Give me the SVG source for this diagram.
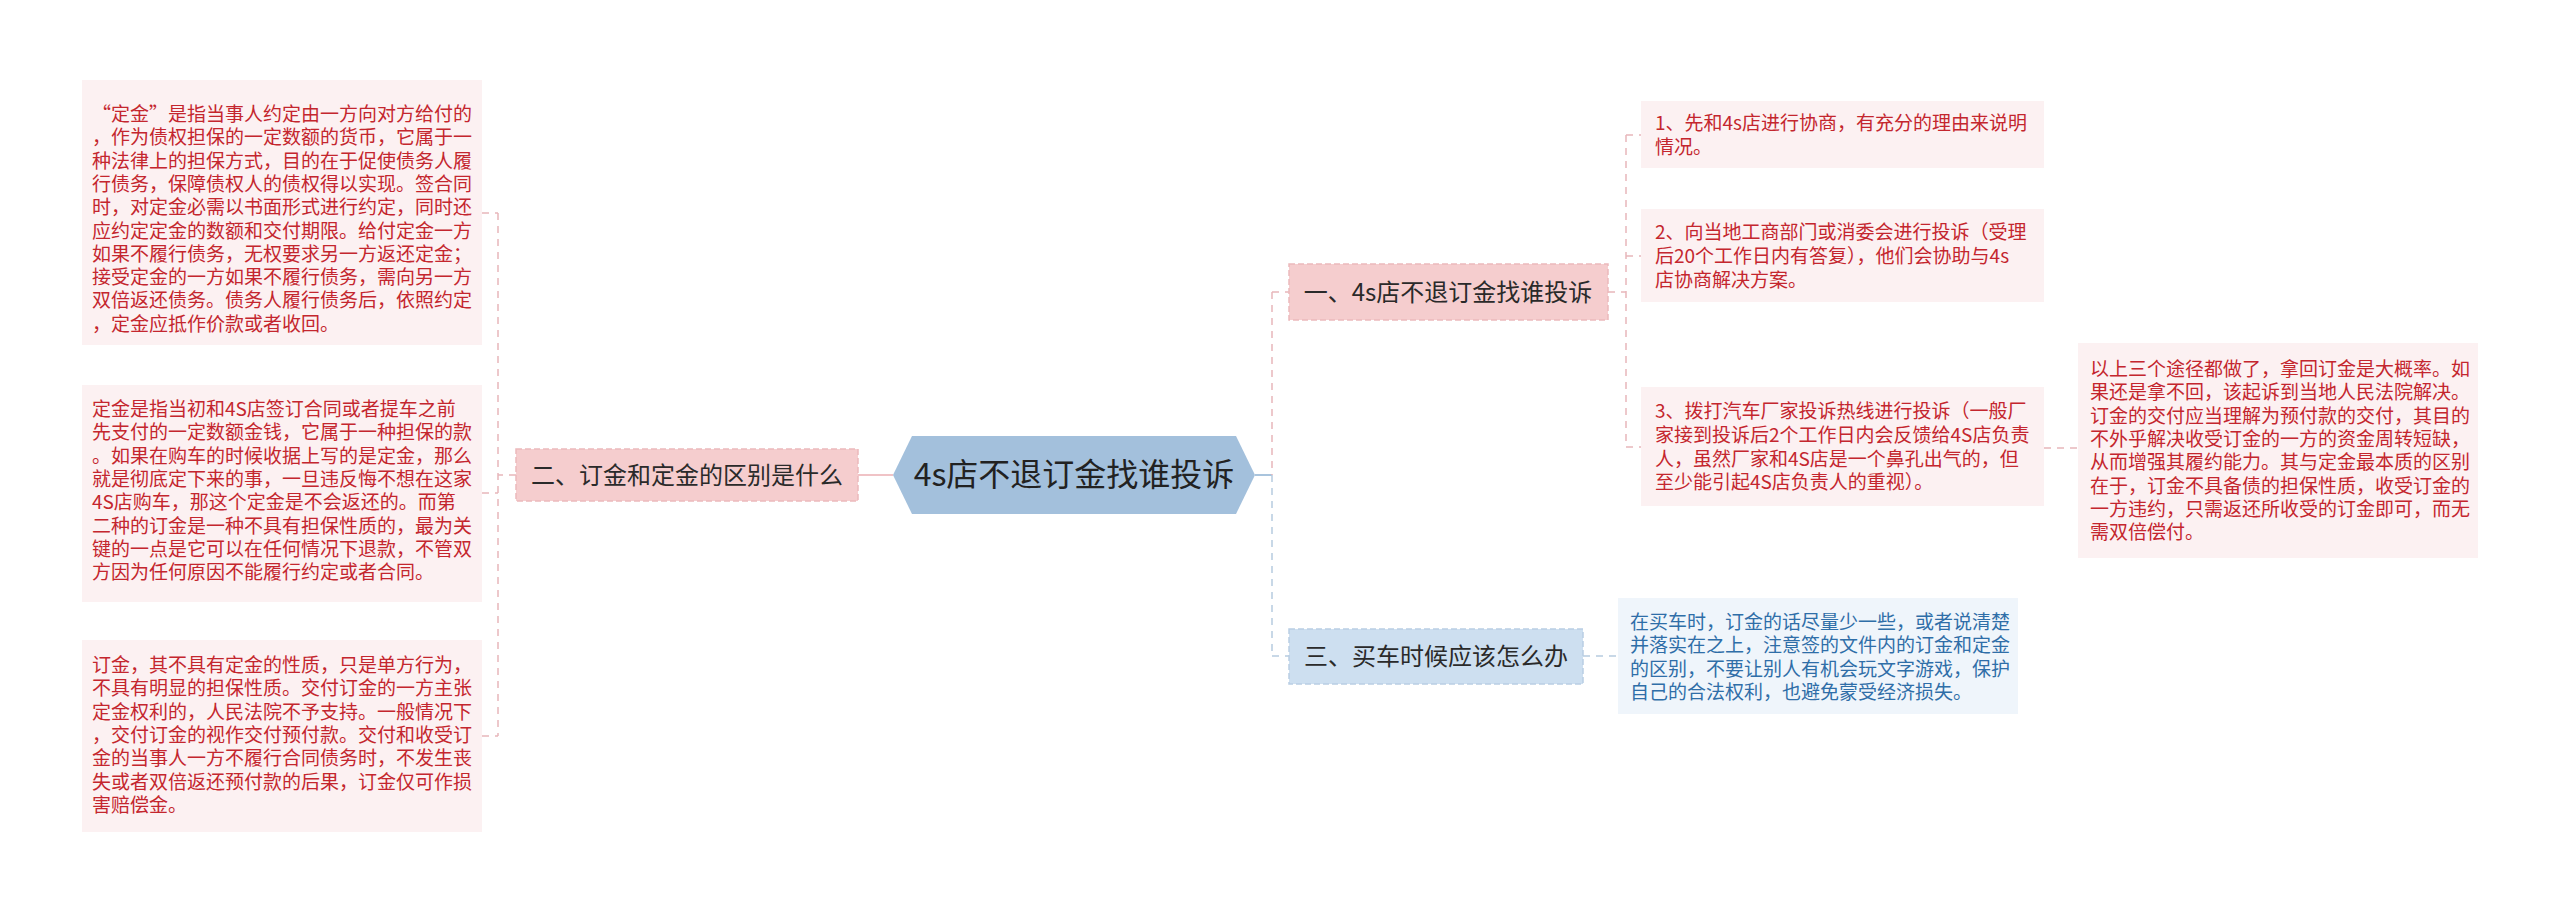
<svg xmlns="http://www.w3.org/2000/svg" width="2560" height="913" viewBox="0 0 2560 913">
<style>
.t{font-family:"Noto Sans CJK SC","Noto Sans",sans-serif;font-size:19px;fill:#c4262e}
.tb{font-family:"Noto Sans CJK SC","Noto Sans",sans-serif;font-size:19px;fill:#2f6ea8}
.lbl{font-family:"Noto Sans CJK SC","Noto Sans",sans-serif;font-size:24px;fill:#2a2a2a;text-anchor:middle}
.root{font-family:"Noto Sans CJK SC","Noto Sans",sans-serif;font-size:32px;fill:#222;text-anchor:middle}
.leaf{fill:#fcf1f2}
.leafb{fill:#eff5fb}
.pinkn{fill:#f5cdce;stroke:#ecb9bc;stroke-width:1.5;stroke-dasharray:6 3}
.bluen{fill:#cddff0;stroke:#b9cee4;stroke-width:1.5;stroke-dasharray:6 3}
.cp{stroke:#e8b7bb;stroke-width:1.5;fill:none;stroke-dasharray:7 6}
.cb{stroke:#b7cbe0;stroke-width:1.5;fill:none;stroke-dasharray:7 6}
.sp{stroke:#f0c3c6;stroke-width:2;fill:none}
.sb{stroke:#a9c4dd;stroke-width:2;fill:none}
</style>
<rect width="2560" height="913" fill="#ffffff"/>
<g id="connectors">
<path class="sp" d="M858 475H893"/>
<path class="sb" d="M1255 475H1272"/>
<path class="cp" d="M498 213V736M482 213H498M482 493H498M482 736H498M516 475H498"/>
<path class="cp" d="M1272 292V475M1272 292H1289"/>
<path class="cb" d="M1272 475V656M1272 656H1289"/>
<path class="cp" d="M1626 135V447M1626 135H1641M1626 256H1641M1626 447H1641M1608 292H1626"/>
<path class="cp" d="M2044 448H2078"/>
<path class="cb" d="M1583 656H1618"/>
</g>
<g id="root">
<polygon points="893,475 912,436 1236,436 1255,475 1236,514 912,514" fill="#a3c0dc"/>
<text class="root" x="1074" y="486">4s店不退订金找谁投诉</text>
</g>
<g id="branch2">
<rect class="pinkn" x="516" y="449" width="342" height="52"/>
<text class="lbl" x="687" y="484">二、订金和定金的区别是什么</text>
</g>
<g id="branch1">
<rect class="pinkn" x="1289" y="264" width="319" height="56"/>
<text class="lbl" x="1448" y="301">一、4s店不退订金找谁投诉</text>
</g>
<g id="branch3">
<rect class="bluen" x="1289" y="629" width="294" height="55"/>
<text class="lbl" x="1436" y="665">三、买车时候应该怎么办</text>
</g>
<g id="leaf-l1">
<rect class="leaf" x="82" y="80" width="400" height="265"/>
<text class="t"><tspan x="92" y="121">“定金”是指当事人约定由一方向对方给付的</tspan><tspan x="92" dy="23.3">，作为债权担保的一定数额的货币，它属于一</tspan><tspan x="92" dy="23.3">种法律上的担保方式，目的在于促使债务人履</tspan><tspan x="92" dy="23.3">行债务，保障债权人的债权得以实现。签合同</tspan><tspan x="92" dy="23.3">时，对定金必需以书面形式进行约定，同时还</tspan><tspan x="92" dy="23.3">应约定定金的数额和交付期限。给付定金一方</tspan><tspan x="92" dy="23.3">如果不履行债务，无权要求另一方返还定金；</tspan><tspan x="92" dy="23.3">接受定金的一方如果不履行债务，需向另一方</tspan><tspan x="92" dy="23.3">双倍返还债务。债务人履行债务后，依照约定</tspan><tspan x="92" dy="23.3">，定金应抵作价款或者收回。</tspan></text>
</g>
<g id="leaf-l2">
<rect class="leaf" x="82" y="385" width="400" height="217"/>
<text class="t"><tspan x="92" y="416">定金是指当初和4S店签订合同或者提车之前</tspan><tspan x="92" dy="23.3">先支付的一定数额金钱，它属于一种担保的款</tspan><tspan x="92" dy="23.3">。如果在购车的时候收据上写的是定金，那么</tspan><tspan x="92" dy="23.3">就是彻底定下来的事，一旦违反悔不想在这家</tspan><tspan x="92" dy="23.3">4S店购车，那这个定金是不会返还的。而第</tspan><tspan x="92" dy="23.3">二种的订金是一种不具有担保性质的，最为关</tspan><tspan x="92" dy="23.3">键的一点是它可以在任何情况下退款，不管双</tspan><tspan x="92" dy="23.3">方因为任何原因不能履行约定或者合同。</tspan></text>
</g>
<g id="leaf-l3">
<rect class="leaf" x="82" y="640" width="400" height="192"/>
<text class="t"><tspan x="92" y="672">订金，其不具有定金的性质，只是单方行为，</tspan><tspan x="92" dy="23.3">不具有明显的担保性质。交付订金的一方主张</tspan><tspan x="92" dy="23.3">定金权利的，人民法院不予支持。一般情况下</tspan><tspan x="92" dy="23.3">，交付订金的视作交付预付款。交付和收受订</tspan><tspan x="92" dy="23.3">金的当事人一方不履行合同债务时，不发生丧</tspan><tspan x="92" dy="23.3">失或者双倍返还预付款的后果，订金仅可作损</tspan><tspan x="92" dy="23.3">害赔偿金。</tspan></text>
</g>
<g id="leaf-r1">
<rect class="leaf" x="1641" y="101" width="403" height="67"/>
<text class="t"><tspan x="1655" y="130">1、先和4s店进行协商，有充分的理由来说明</tspan><tspan x="1655" dy="23.8">情况。</tspan></text>
</g>
<g id="leaf-r2">
<rect class="leaf" x="1641" y="209" width="403" height="93"/>
<text class="t"><tspan x="1655" y="239">2、向当地工商部门或消委会进行投诉（受理</tspan><tspan x="1655" dy="23.8">后20个工作日内有答复），他们会协助与4s</tspan><tspan x="1655" dy="23.8">店协商解决方案。</tspan></text>
</g>
<g id="leaf-r3">
<rect class="leaf" x="1641" y="387" width="403" height="119"/>
<text class="t"><tspan x="1655" y="418">3、拨打汽车厂家投诉热线进行投诉（一般厂</tspan><tspan x="1655" dy="23.8">家接到投诉后2个工作日内会反馈给4S店负责</tspan><tspan x="1655" dy="23.8">人，虽然厂家和4S店是一个鼻孔出气的，但</tspan><tspan x="1655" dy="23.8">至少能引起4S店负责人的重视）。</tspan></text>
</g>
<g id="leaf-r4">
<rect class="leaf" x="2078" y="343" width="400" height="215"/>
<text class="t"><tspan x="2090" y="376">以上三个途径都做了，拿回订金是大概率。如</tspan><tspan x="2090" dy="23.3">果还是拿不回，该起诉到当地人民法院解决。</tspan><tspan x="2090" dy="23.3">订金的交付应当理解为预付款的交付，其目的</tspan><tspan x="2090" dy="23.3">不外乎解决收受订金的一方的资金周转短缺，</tspan><tspan x="2090" dy="23.3">从而增强其履约能力。其与定金最本质的区别</tspan><tspan x="2090" dy="23.3">在于，订金不具备债的担保性质，收受订金的</tspan><tspan x="2090" dy="23.3">一方违约，只需返还所收受的订金即可，而无</tspan><tspan x="2090" dy="23.3">需双倍偿付。</tspan></text>
</g>
<g id="leaf-b1">
<rect class="leafb" x="1618" y="598" width="400" height="116"/>
<text class="tb"><tspan x="1630" y="629">在买车时，订金的话尽量少一些，或者说清楚</tspan><tspan x="1630" dy="23.3">并落实在之上，注意签的文件内的订金和定金</tspan><tspan x="1630" dy="23.3">的区别，不要让别人有机会玩文字游戏，保护</tspan><tspan x="1630" dy="23.3">自己的合法权利，也避免蒙受经济损失。</tspan></text>
</g>
</svg>
